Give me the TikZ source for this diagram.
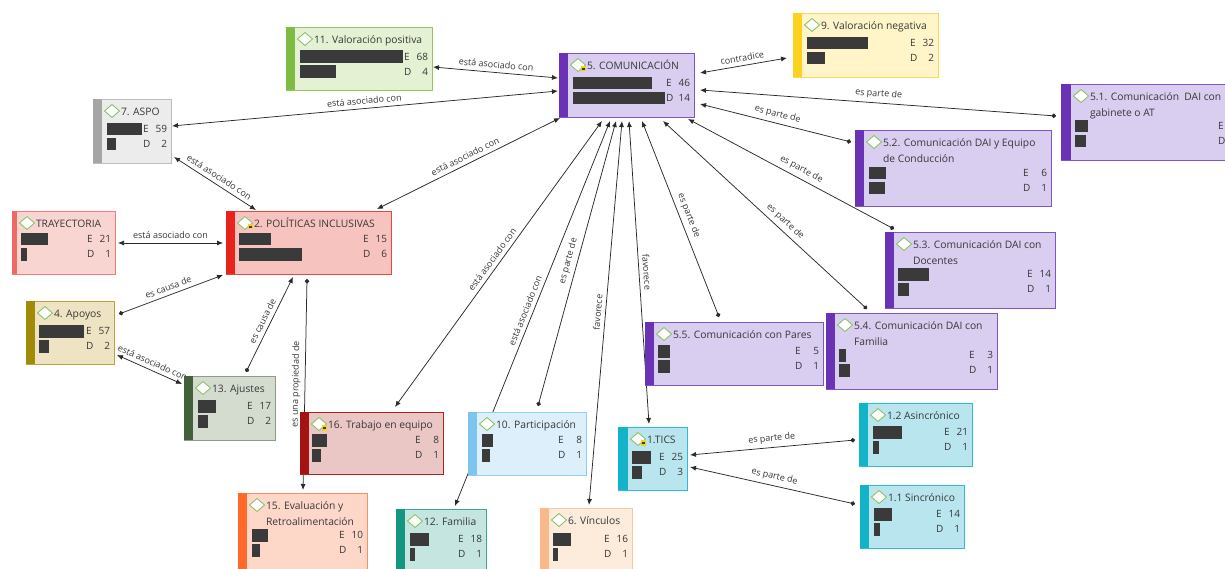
\documentclass[tikz,border=0pt]{standalone}
\usepackage{fontspec}
\setmainfont{Open Sans}
\usetikzlibrary{arrows.meta}
\pgfdeclarelayer{bg}
\pgfsetlayers{bg,main}
\definecolor{txt}{HTML}{383838}
\definecolor{barc}{HTML}{3A3A3A}
\definecolor{diac}{HTML}{8CC36A}
\definecolor{linec}{HTML}{2A2A2A}
\definecolor{icony}{HTML}{F2D21C}
\definecolor{grnS}{HTML}{7DBB42}\definecolor{grnF}{HTML}{E4F1D3}\definecolor{grnB}{HTML}{93C763}
\definecolor{gryS}{HTML}{A6A6A6}\definecolor{gryF}{HTML}{ECECEC}\definecolor{gryB}{HTML}{BDBDBD}
\definecolor{purS}{HTML}{6A32B4}\definecolor{purF}{HTML}{D9CDF0}\definecolor{purB}{HTML}{7F55C4}
\definecolor{yelS}{HTML}{FDD21E}\definecolor{yelF}{HTML}{FFF5C9}\definecolor{yelB}{HTML}{F6DA55}
\definecolor{traS}{HTML}{EE6A64}\definecolor{traF}{HTML}{F9D5D2}\definecolor{traB}{HTML}{EF7E78}
\definecolor{redS}{HTML}{E8231B}\definecolor{redF}{HTML}{F7C3BF}\definecolor{redB}{HTML}{E5483F}
\definecolor{oliS}{HTML}{A08B08}\definecolor{oliF}{HTML}{EEE4C4}\definecolor{oliB}{HTML}{B9A53C}
\definecolor{dgrS}{HTML}{43603B}\definecolor{dgrF}{HTML}{D4DCD0}\definecolor{dgrB}{HTML}{8D9C88}
\definecolor{dreS}{HTML}{A51212}\definecolor{dreF}{HTML}{EAC6C5}\definecolor{dreB}{HTML}{B02323}
\definecolor{oraS}{HTML}{FF692A}\definecolor{oraF}{HTML}{FDD8C8}\definecolor{oraB}{HTML}{FF8E5E}
\definecolor{lbuS}{HTML}{7BC5EE}\definecolor{lbuF}{HTML}{DDEFFA}\definecolor{lbuB}{HTML}{8FCFF1}
\definecolor{teaS}{HTML}{159680}\definecolor{teaF}{HTML}{C5E6E0}\definecolor{teaB}{HTML}{3AA992}
\definecolor{pchS}{HTML}{FAB98A}\definecolor{pchF}{HTML}{FDEBDC}\definecolor{pchB}{HTML}{F8C6A0}
\definecolor{cyaS}{HTML}{14B4C8}\definecolor{cyaF}{HTML}{B9E6EE}\definecolor{cyaB}{HTML}{2DBDD1}
\tikzset{
 cbox/.style={rectangle, inner sep=0pt, outer sep=0pt, anchor=north west, line width=0.8pt},
 ttext/.style={inner sep=0pt, outer sep=0pt, font=\fontsize{10.3}{12}\selectfont, text=txt},
 ntext/.style={inner sep=0pt, outer sep=0pt, font=\fontsize{10}{12}\selectfont, text=txt},
 dia/.style={draw=diac, fill=white, line width=0.9pt, line join=miter},
 conn/.style={draw=linec, line width=0.75pt},
 lbl/.style={font=\fontsize{9}{11}\selectfont, text=txt, inner sep=1pt, sloped, above=3pt},
 arrboth/.style={{Latex[length=6pt,width=5pt]}-{Latex[length=6pt,width=5pt]}},
 arrdot/.style={{Circle[length=4.5pt]}-{Latex[length=6pt,width=5pt]}},
}
% name, left, top, width, height, stripe width, scheme
\newcommand\cnode[7]{%
  \node[cbox, draw=#7B, fill=#7F, minimum width=#4pt, minimum height=#5pt] (#1) at (#2,#3) {};
  \fill[#7S] ([xshift=0.4pt,yshift=-0.4pt]#1.north west) rectangle ([xshift=#6pt,yshift=0.4pt]#1.south west);
}
% name, stripe, title
\newcommand\ttl[3]{%
  \node[ttext, anchor=base west] (#1-t) at ([xshift=#2pt+19pt, yshift=-16.5pt]#1.north west) {#3};
  \draw[dia] ([xshift=#2pt+2.5pt, yshift=-12pt]#1.north west) -- ++(7.5pt,6.5pt) -- ++(7.5pt,-6.5pt) -- ++(-7.5pt,-6.5pt) -- cycle;
}
% name, stripe, line1, line2
\newcommand\ttlb[4]{%
  \ttl{#1}{#2}{#3}%
  \node[ttext, anchor=base west] (#1-t2) at ([xshift=#2pt+19pt, yshift=-32.5pt]#1.north west) {#4};
}
% name, stripe, Ew, Dw, top offset
\newcommand\bars[5]{%
  \fill[barc] ([xshift=#2pt+5pt, yshift=-#5pt]#1.north west) rectangle ++(#3pt,-12.5pt);
  \fill[barc] ([xshift=#2pt+5pt, yshift=-#5pt-15pt]#1.north west) rectangle ++(#4pt,-12.5pt);
}
% name, E, D, top offset
\newcommand\nums[4]{%
  \node[ntext, anchor=west] (#1-el) at ([xshift=-28pt, yshift=-#4pt-6.25pt]#1.north east) {E};
  \node[ntext, anchor=east] (#1-en) at ([xshift=-4pt, yshift=-#4pt-6.25pt]#1.north east) {#2};
  \node[ntext, anchor=west] (#1-dl) at ([xshift=-28pt, yshift=-#4pt-21.25pt]#1.north east) {D};
  \node[ntext, anchor=east] (#1-dn) at ([xshift=-4pt, yshift=-#4pt-21.25pt]#1.north east) {#3};
}
% name, stripe
\newcommand\yic[2]{%
  \fill[icony] ([xshift=#2pt+12.5pt,yshift=-13pt]#1.north west) rectangle ++(5.5pt,-5.5pt);
  \draw[barc, line width=0.5pt] ([xshift=#2pt+13.7pt,yshift=-15pt]#1.north west) -- ++(3pt,0pt)
      ([xshift=#2pt+13.7pt,yshift=-16.6pt]#1.north west) -- ++(3pt,0pt);
}
\begin{document}
\begin{tikzpicture}[x=1pt,y=-1pt]
\useasboundingbox (0,0) rectangle (1225,569);
\begin{pgfonlayer}{bg}
\fill[white] (0,0) rectangle (1225,569);
\end{pgfonlayer}

% ---------- boxes ----------
\cnode{v11}{286}{27}{146}{63}{9}{grn}
\ttl{v11}{9}{11. Valoración positiva}\bars{v11}{9}{103}{36}{23.5}\nums{v11}{68}{4}{23.5}

\cnode{aspo}{93}{99}{78}{64}{9}{gry}
\ttl{aspo}{9}{7. ASPO}\bars{aspo}{9}{35}{9}{24}\nums{aspo}{59}{2}{24}

\cnode{com}{559}{53}{135}{64}{9}{pur}
\ttl{com}{9}{5. COMUNICACIÓN}\yic{com}{9}\bars{com}{9}{79}{92}{24}\nums{com}{46}{14}{24}

\cnode{v9}{793}{13}{145}{64}{9}{yel}
\ttl{v9}{9}{9. Valoración negativa}\bars{v9}{9}{61}{18}{24}\nums{v9}{32}{2}{24}

\cnode{c51}{1061}{84}{185}{76}{10}{pur}
\ttlb{c51}{10}{5.1. Comunicación\ \ DAI con}{gabinete o AT}\bars{c51}{9}{13}{11}{36}\nums{c51}{}{}{36}

\cnode{c52}{855}{130}{196}{76}{9}{pur}
\ttlb{c52}{9}{5.2. Comunicación DAI y Equipo}{de Conducción}\bars{c52}{9}{17}{16}{37}\nums{c52}{6}{1}{37}

\cnode{c53}{885}{232}{170}{76}{9}{pur}
\ttlb{c53}{9}{5.3. Comunicación DAI con}{Docentes}\bars{c53}{8}{31}{11}{36}\nums{c53}{14}{1}{36}

\cnode{c54}{826}{313}{171}{76}{9}{pur}
\ttlb{c54}{9}{5.4. Comunicación DAI con}{Familia}\bars{c54}{8}{7}{11}{36}\nums{c54}{3}{1}{36}

\cnode{c55}{645}{322}{178}{63}{9}{pur}
\ttl{c55}{9}{5.5. Comunicación con Pares}\bars{c55}{8}{12}{12}{23}\nums{c55}{5}{1}{23}

\cnode{tray}{12}{211}{103}{63}{5}{tra}
\ttl{tray}{5}{TRAYECTORIA}\bars{tray}{4}{27}{6}{22}\nums{tray}{21}{1}{22}

\cnode{pol}{226}{211}{165}{63}{9}{red}
\ttl{pol}{9}{2. POLÍTICAS INCLUSIVAS}\yic{pol}{9}\bars{pol}{8}{32}{63}{22}\nums{pol}{15}{6}{22}

\cnode{apoy}{26}{301}{88}{63}{9}{oli}
\ttl{apoy}{9}{4. Apoyos}\bars{apoy}{8}{45}{10}{24}\nums{apoy}{57}{2}{24}

\cnode{ajus}{184}{376}{91}{64}{9}{dgr}
\ttl{ajus}{9}{13. Ajustes}\bars{ajus}{9}{18}{10}{24}\nums{ajus}{17}{2}{24}

\cnode{trab}{300}{412}{143}{62}{9}{dre}
\ttl{trab}{9}{16. Trabajo en equipo}\yic{trab}{9}\bars{trab}{7}{15}{9}{22}\nums{trab}{8}{1}{22}

\cnode{eval}{238}{493}{129}{90}{9}{ora}
\ttlb{eval}{9}{15. Evaluación y}{Retroalimentación}\bars{eval}{9}{16}{8}{36}\nums{eval}{10}{1}{36}

\cnode{part}{468}{412}{118}{63}{9}{lbu}
\ttl{part}{9}{10. Participación}\bars{part}{9}{11}{8}{22}\nums{part}{8}{1}{22}

\cnode{fam}{396}{509}{90}{70}{9}{tea}
\ttl{fam}{9}{12. Familia}\bars{fam}{9}{19}{5}{24}\nums{fam}{18}{1}{24}

\cnode{vinc}{540}{508}{92}{70}{9}{pch}
\ttl{vinc}{9}{6. Vínculos}\bars{vinc}{8}{18}{5}{25}\nums{vinc}{16}{1}{25}

\cnode{tics}{618}{427}{69}{63}{10}{cya}
\ttl{tics}{10}{1.TICS}\yic{tics}{10}\bars{tics}{9}{19}{10}{24}\nums{tics}{25}{3}{24}

\cnode{asin}{859}{403}{113}{63}{9}{cya}
\ttl{asin}{9}{1.2 Asincrónico}\bars{asin}{9}{29}{6}{23}\nums{asin}{21}{1}{23}

\cnode{sinc}{860}{485}{104}{63}{9}{cya}
\ttl{sinc}{9}{1.1 Sincrónico}\bars{sinc}{9}{18}{6}{23}\nums{sinc}{14}{1}{23}

% ---------- connectors ----------
\begin{pgfonlayer}{bg}
\draw[conn,arrboth] ([xshift=147pt,yshift=-40pt]v11.north west) -- node[lbl]{está asociado con} ([xshift=-1pt,yshift=-25pt]com.north west);
\draw[conn,arrboth] ([xshift=79pt,yshift=-27pt]aspo.north west) -- node[lbl]{está asociado con} ([xshift=-1pt,yshift=-38pt]com.north west);
\draw[conn,arrboth] ([xshift=81pt,yshift=-58pt]aspo.north west) -- node[lbl]{está asociado con} ([xshift=30pt,yshift=1pt]pol.north west);
\draw[conn,arrboth] ([xshift=151pt,yshift=2pt]pol.north west) -- node[lbl]{está asociado con} ([xshift=1pt,yshift=-65pt]com.north west);
\draw[conn,arrboth] ([xshift=106pt,yshift=-32pt]tray.north west) -- node[lbl]{está asociado con} ([xshift=-3pt,yshift=-32pt]pol.north west);
\draw[conn,arrdot] ([xshift=93pt,yshift=-13pt]apoy.north west) -- node[lbl]{es causa de} ([xshift=-3pt,yshift=-64pt]pol.north west);
\draw[conn,arrboth] ([xshift=91pt,yshift=-54pt]apoy.north west) -- node[lbl]{está asociado con} ([xshift=-2pt,yshift=-8pt]ajus.north west);
\draw[conn,arrdot] ([xshift=62pt,yshift=4pt]ajus.north west) -- node[lbl]{es causa de} ([xshift=67pt,yshift=-66pt]pol.north west);
\draw[conn,arrdot] ([xshift=81pt,yshift=-68pt]pol.north west) -- node[lbl]{es una propiedad de} ([xshift=65pt,yshift=3pt]eval.north west);
\draw[conn,arrboth] ([xshift=95pt,yshift=5pt]trab.north west) -- node[lbl]{está asociado con} ([xshift=43pt,yshift=-68pt]com.north west);
\draw[conn,arrboth] ([xshift=59pt,yshift=3pt]fam.north west) -- node[lbl]{está asociado con} ([xshift=51pt,yshift=-68pt]com.north west);
\draw[conn,arrdot] ([xshift=70pt,yshift=6pt]part.north west) -- node[lbl]{es parte de} ([xshift=57pt,yshift=-68pt]com.north west);
\draw[conn,arrboth] ([xshift=49pt,yshift=3pt]vinc.north west) -- node[lbl]{favorece} ([xshift=63pt,yshift=-68pt]com.north west);
\draw[conn,arrboth] ([xshift=70pt,yshift=-68pt]com.north west) -- node[lbl]{favorece} ([xshift=31pt,yshift=3pt]tics.north west);
\draw[conn,arrdot] ([xshift=74pt,yshift=5pt]c55.north west) -- node[lbl]{es parte de} ([xshift=83pt,yshift=-68pt]com.north west);
\draw[conn,arrdot] ([xshift=41pt,yshift=4pt]c54.north west) -- node[lbl,pos=0.43]{es parte de} ([xshift=104pt,yshift=-68pt]com.north west);
\draw[conn,arrdot] ([xshift=9pt,yshift=3pt]c53.north west) -- node[lbl,pos=0.47]{es parte de} ([xshift=129pt,yshift=-66pt]com.north west);
\draw[conn,arrdot] ([xshift=-4pt,yshift=-12pt]c52.north west) -- node[lbl]{es parte de} ([xshift=141pt,yshift=-51pt]com.north west);
\draw[conn,arrdot] ([xshift=-5pt,yshift=-32pt]c51.north west) -- node[lbl]{es parte de} ([xshift=141pt,yshift=-37pt]com.north west);
\draw[conn,arrboth] ([xshift=141pt,yshift=-20pt]com.north west) -- node[lbl]{contradice} ([xshift=-6pt,yshift=-45pt]v9.north west);
\draw[conn,arrdot] ([xshift=-4pt,yshift=-37pt]asin.north west) -- node[lbl]{es parte de} ([xshift=72pt,yshift=-28pt]tics.north west);
\draw[conn,arrdot] ([xshift=-5pt,yshift=-19pt]sinc.north west) -- node[lbl]{es parte de} ([xshift=72pt,yshift=-40pt]tics.north west);
\end{pgfonlayer}
\end{tikzpicture}
\end{document}
